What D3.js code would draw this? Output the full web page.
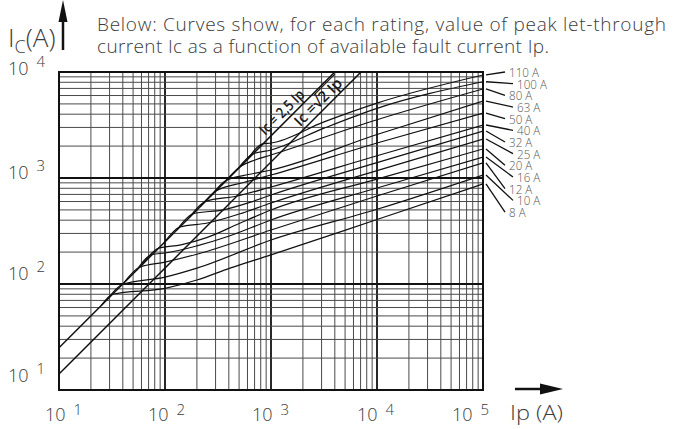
<!DOCTYPE html>
<html><head><meta charset="utf-8">
<script src="https://cdn.jsdelivr.net/npm/d3@7"></script>
<style>body{margin:0;background:#fff}svg{display:block}</style>
</head><body>
<svg id="c" width="674" height="429"></svg>
<script>
// ---------- data ----------
const ratings = ["110 A","100 A","80 A","63 A","50 A","40 A","32 A","25 A","20 A","16 A","12 A","10 A","8 A"];
// [Ip, Ic] points, one array per rating
const c110 = [[596,1489],[841,2104],[1000,2138],[3162,3388],[10000,5093],[100000,9376]];
const c100 = [[479,1197],[676,1690],[1000,1837],[3162,2951],[10000,4539],[100000,8091]];
const c80  = [[361,904],[511,1276],[708,1479],[1000,1648],[10000,3548],[100000,6918]];
const c63  = [[270,676],[382,955],[631,1084],[1000,1189],[10000,2570],[100000,5321]];
const c50  = [[214,535],[302,755],[562,912],[1000,1067],[10000,2138],[100000,4102]];
const c40  = [[170,425],[240,600],[479,676],[1000,822],[10000,1622],[100000,3162]];
const c32  = [[130,326],[184,460],[355,501],[631,589],[1000,692],[10000,1396],[100000,2773]];
const c25  = [[97.7,244],[138,345],[251,376],[501,457],[1000,581],[10000,1175],[100000,2333]];
const c20  = [[61.7,154],[87.1,218],[141,234],[251,275],[501,372],[1000,499],[10000,977],[100000,1879]];
const c16  = [[53.7,134],[75.9,190],[100,196],[200,229],[398,282],[1000,402],[10000,804],[100000,1578]];
const c12  = [[40.7,102],[57.5,144],[100,161],[200,191],[1000,323],[10000,676],[100000,1387]];
const c10  = [[28.2,70.5],[39.8,99.5],[100,116],[200,141],[1000,260],[10000,507],[100000,1067]];
const c8   = [[25.1,62.8],[32,80],[100,91],[200,109],[410,141],[1000,188],[10000,406],[100000,879]];
const curves = [c110,c100,c80,c63,c50,c40,c32,c25,c20,c16,c12,c10,c8];

const diagFactors = [2.5, 1.4142];           // Ic = k * Ip
const diagLabelIp = [938, 2004];             // where the labels sit along each line
const xExponents = ["1","2","3","4","5"];
const yExponents = ["1","2","3","4"];
const titleLines = ["Below: Curves show, for each rating, value of peak let-through",
                    "current Ic as a function of available fault current Ip."];

// ---------- layout ----------
const svg = d3.select("#c");
const FONT = "'Open Sans','Noto Sans',sans-serif";
const TXT = "#3c3c3c";
const x = d3.scaleLog().domain([10,1e5]).range([59,483]);
const y = d3.scaleLog().domain([10,1e4]).range([390,72]);
const isMajor = v => Math.abs(Math.log10(v) - Math.round(Math.log10(v))) < 1e-9;

// grid
const gGrid = svg.append("g");
gGrid.selectAll("line.v").data(x.ticks()).join("line")
  .attr("x1", d=>x(d)).attr("x2", d=>x(d)).attr("y1", y(1e4)).attr("y2", y(10))
  .attr("stroke", d=>isMajor(d)?"#111":"#4a4a4a").attr("stroke-width", d=>isMajor(d)?1.8:1);
gGrid.selectAll("line.h").data(y.ticks()).join("line")
  .attr("y1", d=>y(d)).attr("y2", d=>y(d)).attr("x1", x(10)).attr("x2", x(1e5))
  .attr("stroke", d=>isMajor(d)?"#111":"#4a4a4a").attr("stroke-width", d=>isMajor(d)?1.8:1);
svg.append("rect").attr("x", x(10)).attr("y", y(1e4)).attr("width", x(1e5)-x(10)).attr("height", y(10)-y(1e4))
  .attr("fill","none").attr("stroke","#111").attr("stroke-width",2);

// clip
svg.append("clipPath").attr("id","pc").append("rect")
  .attr("x", x(10)).attr("y", y(1e4)).attr("width", x(1e5)-x(10)).attr("height", y(10)-y(1e4));

// diagonal lines
const gD = svg.append("g").attr("clip-path","url(#pc)");
diagFactors.forEach(k=>{
  gD.append("line").attr("x1", x(10)).attr("y1", y(10*k)).attr("x2", x(1e4/k)).attr("y2", y(1e4))
    .attr("stroke","#111").attr("stroke-width",1.5);
});

// curves
const line = d3.line().x(d=>x(d[0])).y(d=>y(d[1])).curve(d3.curveMonotoneX);
const gC = svg.append("g").attr("clip-path","url(#pc)");
curves.forEach(c=>{
  gC.append("path").attr("d", line(c)).attr("fill","none").attr("stroke","#111").attr("stroke-width",1.2);
});

// diagonal labels
function diagLabel(i, parts, len){
  const k = diagFactors[i], ip = diagLabelIp[i];
  const px = x(ip), py = y(ip*k);
  const off = 4/Math.SQRT2;
  const g = svg.append("g").attr("transform", `translate(${px-off},${py-off}) rotate(-45)`);
  const t = g.append("text").attr("font-family", FONT).attr("font-size", 15).attr("font-weight", 600).attr("fill","#1a1a1a");
  parts.forEach(p=>t.append("tspan").text(p));
  const nat = t.node().getComputedTextLength();
  t.attr("textLength", len).attr("lengthAdjust","spacingAndGlyphs");
  return {g,t,nat,len};
}
diagLabel(0, ["Ic = 2,5 Ip"], 57);
const r2 = diagLabel(1, ["Ic =\u221A", "2 Ip"], 61);
{
  const f = r2.len / r2.nat;
  const tmp = svg.append("text").attr("font-family", FONT).attr("font-size", 15).attr("font-weight", 600).text("Ic =\u221A");
  const pre = tmp.node().getComputedTextLength(); tmp.remove();
  r2.g.append("line").attr("x1", pre*f - 1).attr("x2", r2.len + 1).attr("y1", -13).attr("y2", -13)
    .attr("stroke","#1a1a1a").attr("stroke-width",1.2);
}

// right labels with leaders
const gL = svg.append("g");
ratings.forEach((r,i)=>{
  const c = curves[i];
  const yEnd = y(c[c.length-1][1]);
  const ty = 77 + i*11.67;
  const tx = i%2===0 ? 509 : 517;
  gL.append("line").attr("x1", 486).attr("y1", yEnd).attr("x2", tx-4).attr("y2", ty-5)
    .attr("stroke","#111").attr("stroke-width",1.3);
  const t = gL.append("text").attr("x", tx).attr("y", ty).attr("font-family", FONT).attr("font-size", 13.5)
    .attr("fill", "#555").attr("font-weight",300).text(r);
  const L = t.node().getComputedTextLength();
  t.attr("textLength", L*0.86).attr("lengthAdjust","spacingAndGlyphs");
});

// tick labels
const xNudge = [-14,-17,-19,-20,-31];
xExponents.forEach((e,i)=>{
  const t = svg.append("text").attr("x", x(10**(i+1)) + xNudge[i]).attr("y", 421)
    .attr("font-family", FONT).attr("font-size", 18).attr("font-weight",300).attr("fill", TXT);
  t.append("tspan").text("10");
  t.append("tspan").attr("dx", 8).attr("dy", -6).attr("font-size", 15).text(e);
});
const yNudge = [-8,-4,1,3];
yExponents.forEach((e,i)=>{
  const t = svg.append("text").attr("x", 8).attr("y", y(10**(i+1)) + yNudge[i])
    .attr("font-family", FONT).attr("font-size", 18).attr("font-weight",300).attr("fill", TXT);
  t.append("tspan").text("10");
  t.append("tspan").attr("dx", 8).attr("dy", -8).attr("font-size", 15).text(e);
});

// axis titles
{
  const t = svg.append("text").attr("x", 8).attr("y", 47).attr("font-family", FONT)
    .attr("font-size", 26).attr("font-weight",300).attr("fill", TXT);
  t.append("tspan").text("I");
  t.append("tspan").attr("dy", 6).attr("font-size", 18).text("C");
  t.append("tspan").attr("dy", -6).text("(A)");
}
svg.append("text").attr("x", 510).attr("y", 420).attr("font-family", FONT)
  .attr("font-size", 21).attr("font-weight",300).attr("fill", TXT)
  .attr("textLength", 53).attr("lengthAdjust","spacingAndGlyphs").text("Ip (A)");

// arrows
svg.append("line").attr("x1",63).attr("y1",50).attr("x2",63).attr("y2",14).attr("stroke","#111").attr("stroke-width",2.5);
svg.append("path").attr("d","M63,0 L67.5,22 L58.5,22 Z").attr("fill","#111");
svg.append("line").attr("x1",515).attr("y1",389).attr("x2",545).attr("y2",389).attr("stroke","#111").attr("stroke-width",2.5);
svg.append("path").attr("d","M563,389 L540,383.5 L540,394.5 Z").attr("fill","#111");

// title
const titleLen = [569, 452];
titleLines.forEach((s,i)=>{
  svg.append("text").attr("x", 97).attr("y", 31 + i*22).attr("font-family", FONT)
    .attr("font-size", 19).attr("font-weight",300).attr("fill", TXT)
    .attr("textLength", titleLen[i]).attr("lengthAdjust","spacing").text(s);
});
</script>
</body></html>
